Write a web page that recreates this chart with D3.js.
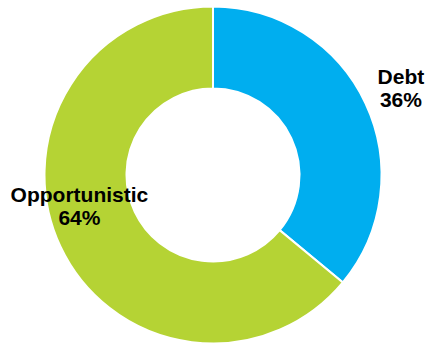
<!DOCTYPE html>
<html>
<head>
<meta charset="utf-8">
<script src="https://cdn.jsdelivr.net/npm/d3@7"></script>
<style>
  html, body { margin: 0; padding: 0; background: #fff; }
  svg { display: block; }
</style>
</head>
<body>
<svg id="chart"></svg>
<script>
// chart data
const categories = ['Debt', 'Opportunistic'];
const shares = [36, 64];
const colors = ['#00aeef', '#b5d334'];

const width = 429, height = 345;
const cx = 213, cy = 175;
const outerR = 168.5, innerR = 86.5;

const svg = d3.select('#chart')
  .attr('width', width)
  .attr('height', height);

const g = svg.append('g').attr('transform', `translate(${cx},${cy})`);

const pie = d3.pie().sort(null).value(d => d.value);
const arc = d3.arc().innerRadius(innerR).outerRadius(outerR);

const slices = pie(categories.map((c, i) => ({ name: c, value: shares[i], color: colors[i] })));

g.selectAll('path')
  .data(slices)
  .enter().append('path')
  .attr('d', arc)
  .attr('fill', d => d.data.color)
  .attr('stroke', '#fff')
  .attr('stroke-width', 2)
  .attr('stroke-linejoin', 'miter');

// label placement: radius from centre and angle shift (radians) from slice middle
const labelPos = [{ r: 204, shift: 0.04 }, { r: 139, shift: 0.16 }];

const labels = g.selectAll('text.lbl')
  .data(slices)
  .enter().append('text')
  .attr('class', 'lbl')
  .attr('text-anchor', 'middle')
  .attr('font-family', 'Liberation Sans, Arial, sans-serif')
  .attr('font-weight', 'bold')
  .attr('font-size', 21)
  .attr('fill', '#000')
  .attr('transform', (d, i) => {
    const a = (d.startAngle + d.endAngle) / 2 + labelPos[i].shift;
    const r = labelPos[i].r;
    return `translate(${r * Math.sin(a)},${-r * Math.cos(a)})`;
  });

labels.append('tspan')
  .attr('x', 0)
  .attr('dy', '-0.55em')
  .text(d => d.data.name);

labels.append('tspan')
  .attr('x', 0)
  .attr('dy', '1.1em')
  .text(d => d.data.value + '%');
</script>
</body>
</html>
